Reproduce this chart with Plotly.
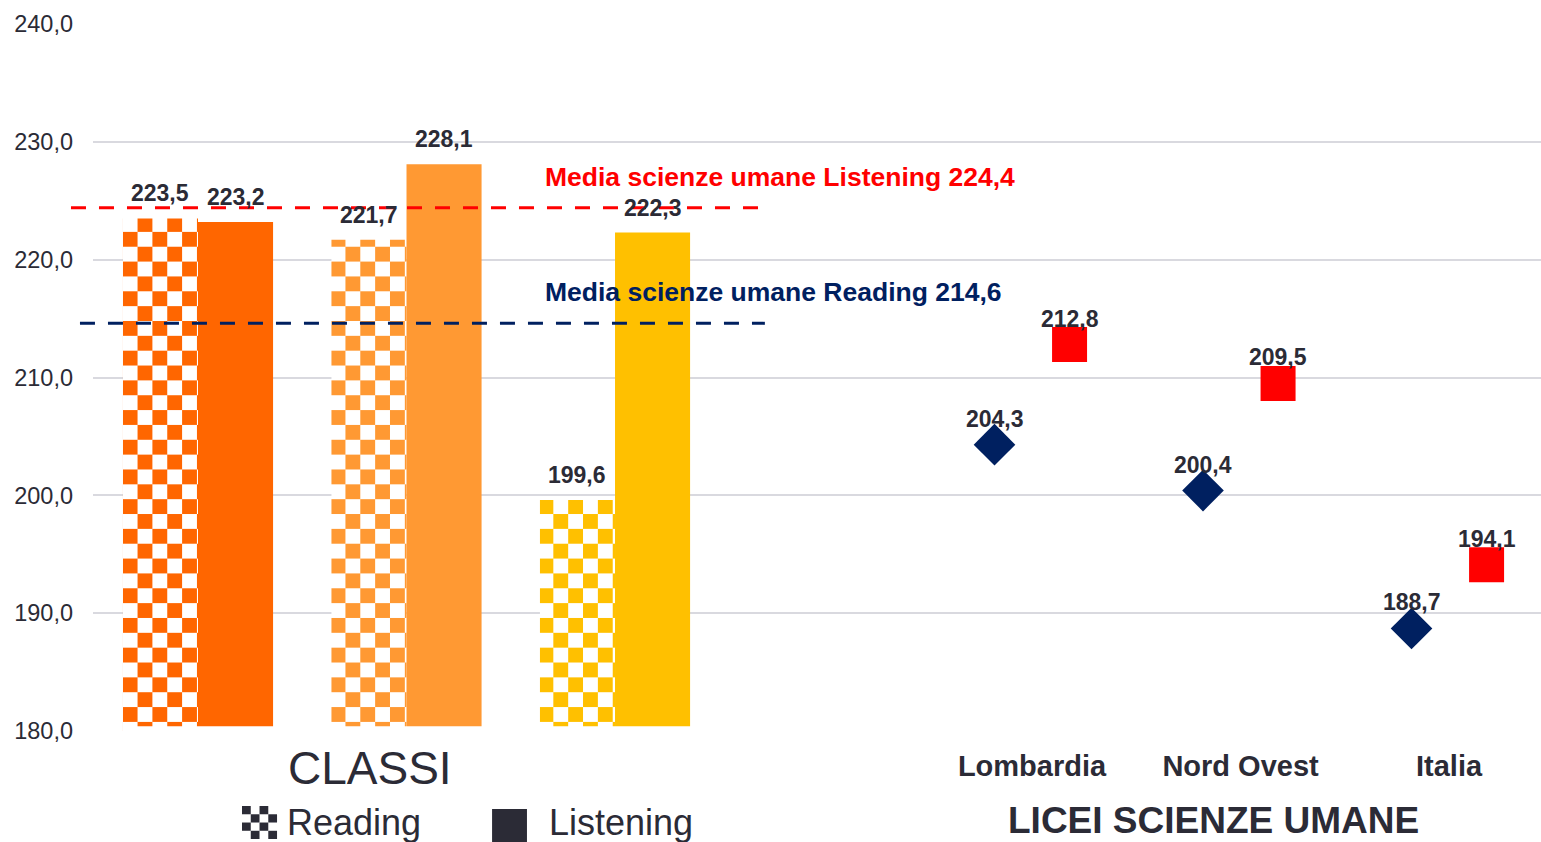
import plotly.graph_objects as go

# ---------------- data ----------------
classi_reading = [223.5, 221.7, 199.6]
classi_listening = [223.2, 228.1, 222.3]
classi_colors = ["#FF6600", "#FF9933", "#FFC000"]

regioni = ["Lombardia", "Nord Ovest", "Italia"]
regioni_reading = [204.3, 200.4, 188.7]
regioni_listening = [212.8, 209.5, 194.1]

media_reading = 214.6
media_listening = 224.4

y_ticks = [180, 190, 200, 210, 220, 230, 240]

# ---------------- style ----------------
FONT = "Liberation Sans, Arial, sans-serif"
DARK = "#2B2B36"
NAVY = "#002060"
RED = "#FF0000"
OFF = 0.18  # half-slot offset for the two series


def fmt(v):
    return f"{v:.1f}".replace(".", ",")


class_x = list(range(len(classi_reading)))
region_x = [len(class_x) + 1 + i for i in range(len(regioni))]

fig = go.Figure()

fig.add_trace(go.Bar(
    name="Reading", x=class_x, y=classi_reading, showlegend=False,
    marker=dict(color=classi_colors, line=dict(width=0),
                pattern=dict(shape="x", fgcolor=classi_colors, bgcolor="white",
                             size=21, solidity=0.5, fillmode="replace")),
    hoverinfo="skip",
))
fig.add_trace(go.Bar(
    name="Listening", x=class_x, y=classi_listening, showlegend=False,
    marker=dict(color=classi_colors, line=dict(width=0)),
    hoverinfo="skip",
))

fig.add_trace(go.Scatter(
    name="Reading", x=[x - OFF for x in region_x], y=regioni_reading, mode="markers",
    marker=dict(symbol="diamond", size=32, color=NAVY), showlegend=False,
))
fig.add_trace(go.Scatter(
    name="Listening", x=[x + OFF for x in region_x], y=regioni_listening, mode="markers",
    marker=dict(symbol="square", size=35, color=RED), showlegend=False,
))

LBL = dict(family=FONT, size=23, color=DARK, weight="bold")
annotations = []
for x, v in zip(class_x, classi_reading):
    annotations.append(dict(x=x - OFF, y=v, text=fmt(v), showarrow=False, yshift=25, font=LBL))
for x, v in zip(class_x, classi_listening):
    annotations.append(dict(x=x + OFF, y=v, text=fmt(v), showarrow=False, yshift=25, font=LBL))
for x, v in zip(region_x, regioni_reading):
    annotations.append(dict(x=x - OFF, y=v, text=fmt(v), showarrow=False, yshift=26, font=LBL))
for x, v in zip(region_x, regioni_listening):
    annotations.append(dict(x=x + OFF, y=v, text=fmt(v), showarrow=False, yshift=26, font=LBL))

# mean labels
annotations.append(dict(xref="paper", x=0.3108, xanchor="left", y=media_listening, yshift=31,
                        yanchor="middle",
                        text=f"Media scienze umane Listening {fmt(media_listening)}",
                        showarrow=False, font=dict(family=FONT, size=26.5, color=RED, weight="bold")))
annotations.append(dict(xref="paper", x=0.3108, xanchor="left", y=media_reading, yshift=31,
                        yanchor="middle",
                        text=f"Media scienze umane Reading {fmt(media_reading)}",
                        showarrow=False, font=dict(family=FONT, size=26.5, color=NAVY, weight="bold")))

# group titles
annotations.append(dict(xref="paper", yref="paper", x=0.1913, y=-0.0523,
                        xanchor="center", yanchor="middle", text="CLASSI",
                        showarrow=False, font=dict(family=FONT, size=46, color=DARK)))
annotations.append(dict(xref="paper", yref="paper", x=0.7735, y=-0.127,
                        xanchor="center", yanchor="middle", text="LICEI SCIENZE UMANE",
                        showarrow=False, font=dict(family=FONT, size=37, color=DARK, weight="bold")))

# legend texts
annotations.append(dict(xref="paper", yref="paper", x=0.1326, xanchor="left", y=-0.130,
                        yanchor="middle",
                        text="Reading", showarrow=False, font=dict(family=FONT, size=36, color=DARK)))
annotations.append(dict(xref="paper", yref="paper", x=0.3135, xanchor="left", y=-0.130,
                        yanchor="middle",
                        text="Listening", showarrow=False, font=dict(family=FONT, size=36, color=DARK)))

shapes = [
    dict(type="line", xref="paper", yref="y", x0=-0.0152, x1=0.4606,
         y0=media_listening, y1=media_listening, layer="above",
         line=dict(color=RED, width=3, dash="15px,13px")),
    dict(type="line", xref="paper", yref="y", x0=-0.009, x1=0.464,
         y0=media_reading, y1=media_reading, layer="above",
         line=dict(color=NAVY, width=3, dash="15px,13px")),
    # white strip hiding the baseline under the bars
    dict(type="rect", xref="paper", yref="y", x0=0.0256, x1=0.4296, y0=179.4, y1=180.4,
         layer="above", fillcolor="white", line=dict(width=0)),
    # legend icon: Listening
    dict(type="rect", xref="paper", yref="paper", x0=0.2756, x1=0.2997, y0=-0.1103, y1=-0.1570,
         fillcolor=DARK, line=dict(width=0)),
]
# legend icon: Reading (checker)
ix0, ix1, iy0, iy1 = 0.1029, 0.1271, -0.1061, -0.1528
n = 4
for i in range(n):
    for j in range(n):
        if (i + j) % 2 == 0:
            shapes.append(dict(type="rect", xref="paper", yref="paper",
                               x0=ix0 + (ix1 - ix0) * i / n, x1=ix0 + (ix1 - ix0) * (i + 1) / n,
                               y0=iy0 + (iy1 - iy0) * j / n, y1=iy0 + (iy1 - iy0) * (j + 1) / n,
                               fillcolor=DARK, line=dict(width=0)))

fig.update_layout(
    width=1541, height=842,
    margin=dict(l=93, r=0, t=24, b=111),
    paper_bgcolor="white", plot_bgcolor="white",
    barmode="group", bargap=0.28, bargroupgap=0,
    separators=",.",
    showlegend=False,
    annotations=annotations, shapes=shapes,
    xaxis=dict(range=[-0.5036, 6.441], tickvals=region_x, ticktext=regioni,
               showgrid=False, zeroline=False, showline=False, ticks="",
               ticklabelstandoff=15,
               tickfont=dict(family=FONT, size=29, color=DARK, weight="bold")),
    yaxis=dict(range=[180, 240], tickvals=y_ticks, tickformat=".1f",
               showgrid=True, gridcolor="#D9D9DF", gridwidth=2, zeroline=False,
               showline=False, ticks="", ticklabelstandoff=19,
               tickfont=dict(family=FONT, size=23.5, color=DARK)),
)

post = """
document.body.style.margin = '0';
var gd = document.getElementById('{plot_id}');
var ns = 'http://www.w3.org/2000/svg';
var pats = gd.querySelectorAll('pattern');
pats.forEach(function(p){
  var w = parseFloat(p.getAttribute('width'));
  var h = parseFloat(p.getAttribute('height'));
  var fg = null;
  Array.prototype.slice.call(p.children).forEach(function(c){
    if (c.tagName.toLowerCase() !== 'rect') {
      fg = c.getAttribute('stroke') || c.getAttribute('fill') || c.style.stroke || c.style.fill;
    }
  });
  if (!fg) return;
  while (p.firstChild) p.removeChild(p.firstChild);
  function r(x, y, ww, hh, col){
    var e = document.createElementNS(ns, 'rect');
    e.setAttribute('x', x); e.setAttribute('y', y);
    e.setAttribute('width', ww); e.setAttribute('height', hh);
    e.setAttribute('fill', col);
    p.appendChild(e);
  }
  r(0, 0, w, h, '#ffffff');
  r(0, 0, w/2, h/2, fg);
  r(w/2, h/2, w/2, h/2, fg);
});
"""

fig.write_html("out.html", post_script=post, config={"displayModeBar": False})
